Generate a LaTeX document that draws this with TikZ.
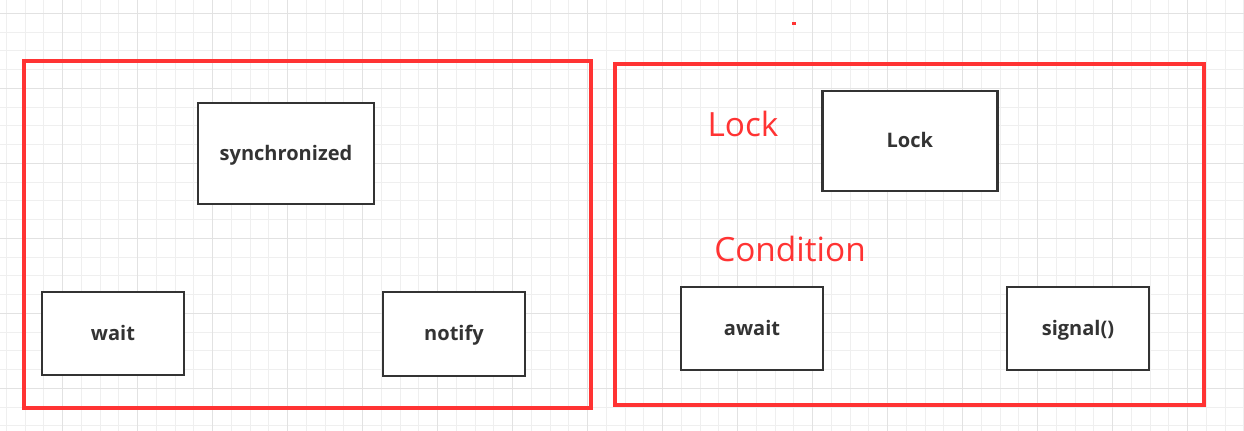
\documentclass[tikz,border=0pt]{standalone}
\usepackage{fontspec}
\setmainfont{Open Sans}
\usepackage{xcolor}
\usetikzlibrary{positioning}
\definecolor{framered}{HTML}{FF3333}
\definecolor{boxdark}{HTML}{333333}
\definecolor{gridminor}{HTML}{EFEFEF}
\definecolor{gridmajor}{HTML}{E2E2E2}
\tikzset{
  kbox/.style={draw=boxdark, line width=1.6pt, fill=white, align=center, text=boxdark, text height=1.6ex, text depth=0.15ex, font=\bfseries\fontsize{11.4}{14}\selectfont},
  kframe/.style={draw=framered, line width=1.9pt, inner sep=0pt},
  klabel/.style={text=framered, font=\fontsize{19}{22}\selectfont, inner sep=0pt}
}

\begin{document}
\begin{tikzpicture}[x=0.02cm,y=-0.02cm]
\useasboundingbox (0,0) rectangle (1244,431);
\fill[white] (0,0) rectangle (1244,431);
% background grid
\foreach \k in {0,...,66}
  \draw[gridminor, line width=0.5pt] (6.25+18.75*\k,0) -- (6.25+18.75*\k,431);
\foreach \k in {0,...,22}
  \draw[gridminor, line width=0.5pt] (0,13.3+18.75*\k) -- (1244,13.3+18.75*\k);
\foreach \k in {0,...,16}
  \draw[gridmajor, line width=0.6pt] (62.5+75*\k,0) -- (62.5+75*\k,431);
\foreach \k in {0,...,5}
  \draw[gridmajor, line width=0.6pt] (0,13.3+75*\k) -- (1244,13.3+75*\k);
% frames
\node[kframe, minimum width=11.34cm, minimum height=6.94cm] (sync frame) at (307.5,234.5) {};
\node[kframe, minimum width=11.78cm, minimum height=6.82cm] (lock frame) at (909.5,234.5) {};
% left side
\node[kbox, minimum width=3.52cm, minimum height=2.02cm] (synchronized) at (286,153.5) {synchronized};
\node[kbox, minimum width=2.84cm, minimum height=1.66cm] (wait) at (113,333.5) {wait};
\node[kbox, minimum width=2.84cm, minimum height=1.68cm] (notify) at (454,334) {notify};
% right side
\node[kbox, minimum width=3.5cm, minimum height=2.0cm] (lock) at (909.8,141) {Lock};
\node[kbox, minimum width=2.84cm, minimum height=1.66cm] (await) at (752,328.5) {await};
\node[kbox, minimum width=2.84cm, minimum height=1.66cm] (signal) at (1078,328.5) {signal()};
\node[klabel] (lock label) at (743,124) {Lock};
\node[klabel] (condition label) at (790,249) {Condition};
\fill[framered] (792,22.5) rectangle (796,25.5);
\end{tikzpicture}
\end{document}
